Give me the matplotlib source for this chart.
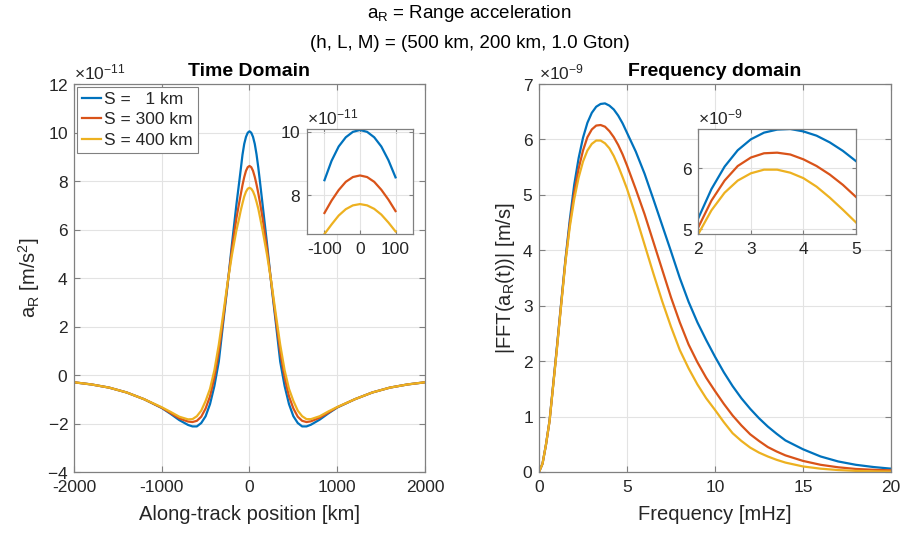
import matplotlib
matplotlib.use("Agg")
import matplotlib.pyplot as plt
import numpy as np

plt.rcParams['font.family'] = ['Liberation Sans', 'DejaVu Sans']
plt.rcParams['mathtext.fontset'] = 'custom'
plt.rcParams['mathtext.rm'] = 'Liberation Sans'
plt.rcParams['mathtext.it'] = 'Liberation Sans'
plt.rcParams['axes.unicode_minus'] = False

# ---- time domain: along-track position [km], range acceleration [1e-11 m/s^2]
position_km = [-2000, -1800, -1600, -1400, -1200, -1000, -900, -800, -700, -650,
               -600, -550, -500, -450, -400, -350, -300, -250, -200, -150,
               -120, -100, -80, -60, -40, -20, 0, 20, 40, 60,
               80, 100, 120, 150, 200, 250, 300, 350, 400, 450,
               500, 550, 600, 650, 700, 800, 900, 1000, 1200, 1400,
               1600, 1800, 2000]
accel_s1 = [-0.30, -0.39, -0.52, -0.72, -1.00, -1.36, -1.60, -1.86, -2.06, -2.12,
            -2.12, -1.98, -1.70, -1.20, -0.45, 0.55, 2.15, 3.70, 5.40, 7.00,
            7.88, 8.47, 9.08, 9.53, 9.82, 9.99, 10.05, 9.99, 9.82, 9.53,
            9.10, 8.56, 7.95, 7.00, 5.40, 3.70, 2.15, 0.55, -0.45, -1.20,
            -1.70, -1.98, -2.12, -2.12, -2.05, -1.84, -1.58, -1.34, -1.00, -0.72,
            -0.52, -0.39, -0.30]
accel_s300 = [-0.30, -0.39, -0.52, -0.72, -1.00, -1.35, -1.57, -1.79, -1.92, -1.94,
              -1.89, -1.72, -1.38, -0.88, -0.10, 0.95, 2.30, 3.75, 5.20, 6.45,
              7.05, 7.44, 7.83, 8.16, 8.42, 8.57, 8.62, 8.57, 8.42, 8.17,
              7.86, 7.50, 7.10, 6.45, 5.20, 3.75, 2.30, 0.95, -0.10, -0.88,
              -1.38, -1.72, -1.89, -1.94, -1.91, -1.76, -1.55, -1.33, -1.00, -0.72,
              -0.52, -0.39, -0.30]
accel_s400 = [-0.30, -0.39, -0.52, -0.72, -1.00, -1.33, -1.52, -1.72, -1.83, -1.82,
              -1.70, -1.47, -1.07, -0.57, 0.20, 1.25, 2.50, 3.80, 4.95, 5.95,
              6.43, 6.78, 7.08, 7.36, 7.56, 7.68, 7.72, 7.68, 7.57, 7.39,
              7.14, 6.86, 6.50, 5.95, 4.95, 3.80, 2.50, 1.25, 0.20, -0.57,
              -1.07, -1.47, -1.70, -1.82, -1.82, -1.70, -1.50, -1.32, -1.00, -0.72,
              -0.52, -0.39, -0.30]

# ---- frequency domain: frequency [mHz], |FFT| [1e-9 m/s]
freq_mhz = [0, 0.2, 0.4, 0.6, 0.8, 1.0, 1.25, 1.5, 1.75, 2.0,
            2.25, 2.5, 2.75, 3.0, 3.25, 3.5, 3.75, 4.0, 4.25, 4.5,
            4.75, 5.0, 5.5, 6.0, 6.5, 7.0, 7.5, 8.0, 8.5, 9.0,
            9.5, 10, 10.5, 11, 11.5, 12, 12.5, 13, 13.5, 14,
            15, 16, 17, 18, 19, 20]
fft_s1 = [0, 0.15, 0.50, 0.93, 1.56, 2.20, 3.02, 3.83, 4.55, 5.18,
          5.66, 6.03, 6.30, 6.48, 6.59, 6.64, 6.65, 6.61, 6.54, 6.43,
          6.29, 6.12, 5.78, 5.38, 4.92, 4.45, 3.98, 3.50, 3.07, 2.70,
          2.38, 2.08, 1.80, 1.55, 1.33, 1.14, 0.97, 0.82, 0.69, 0.57,
          0.41, 0.28, 0.19, 0.13, 0.09, 0.06]
fft_s300 = [0, 0.15, 0.50, 0.92, 1.55, 2.18, 3.00, 3.80, 4.48, 5.03,
            5.47, 5.80, 6.04, 6.18, 6.25, 6.26, 6.23, 6.15, 6.04, 5.90,
            5.73, 5.53, 5.10, 4.65, 4.15, 3.65, 3.15, 2.70, 2.30, 1.98,
            1.70, 1.46, 1.23, 1.02, 0.84, 0.68, 0.56, 0.45, 0.37, 0.30,
            0.20, 0.13, 0.085, 0.055, 0.04, 0.03]
fft_s400 = [0, 0.15, 0.50, 0.92, 1.54, 2.16, 2.98, 3.78, 4.42, 4.92,
            5.31, 5.60, 5.80, 5.92, 5.98, 5.98, 5.93, 5.84, 5.70, 5.52,
            5.32, 5.11, 4.62, 4.10, 3.58, 3.08, 2.62, 2.20, 1.87, 1.58,
            1.33, 1.12, 0.90, 0.70, 0.56, 0.44, 0.35, 0.28, 0.22, 0.17,
            0.10, 0.06, 0.035, 0.02, 0.012, 0.008]

series_labels = ["S =   1 km", "S = 300 km", "S = 400 km"]
colors = ['#0072BD', '#D95319', '#EDB120']

TXT = '#262626'
EDGE = '#808080'
TICK_FS = 12.5


def matlab_style(ax, fs=TICK_FS, ticklen=4):
    ax.grid(True, color='#e3e3e3', linewidth=0.8)
    ax.set_axisbelow(True)
    for s in ax.spines.values():
        s.set_color(EDGE)
        s.set_linewidth(0.9)
    ax.tick_params(direction='in', length=ticklen, width=0.8, color=EDGE,
                   labelcolor=TXT, labelsize=fs, top=True, right=True, pad=4)
    ax.tick_params(axis='x', pad=6)
    ax.yaxis.get_offset_text().set_fontsize(fs)
    ax.yaxis.get_offset_text().set_color(TXT)


fig = plt.figure(figsize=(9.03, 5.34), dpi=100)

x = np.array(position_km)
time_series = [np.array(accel_s1) * 1e-11, np.array(accel_s300) * 1e-11,
               np.array(accel_s400) * 1e-11]
f = np.array(freq_mhz)
freq_series = [np.array(fft_s1) * 1e-9, np.array(fft_s300) * 1e-9,
               np.array(fft_s400) * 1e-9]

# ---------- left: time domain
ax1 = fig.add_axes([74 / 903, 1 - 472 / 534, 351 / 903, 388 / 534])
for y, c, lab in zip(time_series, colors, series_labels):
    ax1.plot(x, y, color=c, lw=1.6, label=lab)
ax1.set_xlim(-2000, 2000)
ax1.set_ylim(-4e-11, 12e-11)
ax1.set_xticks([-2000, -1000, 0, 1000, 2000])
ax1.set_yticks(np.arange(-4, 13, 2) * 1e-11)
ax1.ticklabel_format(axis='y', style='sci', scilimits=(-11, -11), useMathText=True)
matlab_style(ax1)
ax1.set_xlabel("Along-track position [km]", fontsize=14.5, color=TXT, labelpad=7)
ax1.set_ylabel(r"a$_\mathregular{R}$ [m/s$^\mathregular{2}$]", fontsize=14.5, color=TXT, labelpad=4)
ax1.set_title("Time Domain", fontsize=14, fontweight='bold', color='black', pad=6)
leg = ax1.legend(loc='upper left', fontsize=12.5, handlelength=1.1, handletextpad=0.2,
                 borderpad=0.3, labelspacing=0.3, borderaxespad=0.15,
                 fancybox=False, framealpha=1)
leg.get_frame().set_edgecolor(EDGE)
leg.get_frame().set_linewidth(0.8)
for t in leg.get_texts():
    t.set_color(TXT)

# inset: peak
ins1 = fig.add_axes([306.7 / 903, 1 - 234 / 534, 106.6 / 903, 105 / 534])
m = np.abs(x) <= 100
for y, c in zip(time_series, colors):
    ins1.plot(x[m], y[m], color=c, lw=1.6)
ins1.set_xlim(-150, 150)
ins1.set_ylim(6.78e-11, 10.08e-11)
ins1.set_xticks([-100, 0, 100])
ins1.set_yticks([8e-11, 10e-11])
ins1.ticklabel_format(axis='y', style='sci', scilimits=(-11, -11), useMathText=True)
matlab_style(ins1, ticklen=3)

# ---------- right: frequency domain
ax2 = fig.add_axes([539 / 903, 1 - 472 / 534, 352 / 903, 388 / 534])
for y, c in zip(freq_series, colors):
    ax2.plot(f, y, color=c, lw=1.6)
ax2.set_xlim(0, 20)
ax2.set_ylim(0, 7e-9)
ax2.set_xticks([0, 5, 10, 15, 20])
ax2.set_yticks(np.arange(0, 8) * 1e-9)
ax2.ticklabel_format(axis='y', style='sci', scilimits=(-9, -9), useMathText=True)
matlab_style(ax2)
ax2.set_xlabel("Frequency [mHz]", fontsize=14.5, color=TXT, labelpad=7)
ax2.set_ylabel(r"|FFT(a$_\mathregular{R}$(t))| [m/s]", fontsize=14.5, color=TXT, labelpad=4)
ax2.set_title("Frequency domain", fontsize=14, fontweight='bold', color='black', pad=6)

# inset: spectral peak
ins2 = fig.add_axes([698.3 / 903, 1 - 234 / 534, 157.7 / 903, 105 / 534])
mf = (f >= 2) & (f <= 5)
for y, c in zip(freq_series, colors):
    ins2.plot(f[mf], y[mf], color=c, lw=1.6)
ins2.set_xlim(2, 5)
ins2.set_ylim(4.92e-9, 6.65e-9)
ins2.set_xticks([2, 3, 4, 5])
ins2.set_yticks([5e-9, 6e-9])
ins2.ticklabel_format(axis='y', style='sci', scilimits=(-9, -9), useMathText=True)
matlab_style(ins2, ticklen=3)

# ---------- super title
fig.text(0.52, 1 - 14 / 534, r"a$_\mathregular{R}$ = Range acceleration",
         ha='center', va='center', fontsize=13.5, color='black')
fig.text(0.52, 1 - 43 / 534, "(h, L, M) = (500 km, 200 km, 1.0 Gton)",
         ha='center', va='center', fontsize=13.5, color='black')

fig.savefig("out.png", dpi=100)
